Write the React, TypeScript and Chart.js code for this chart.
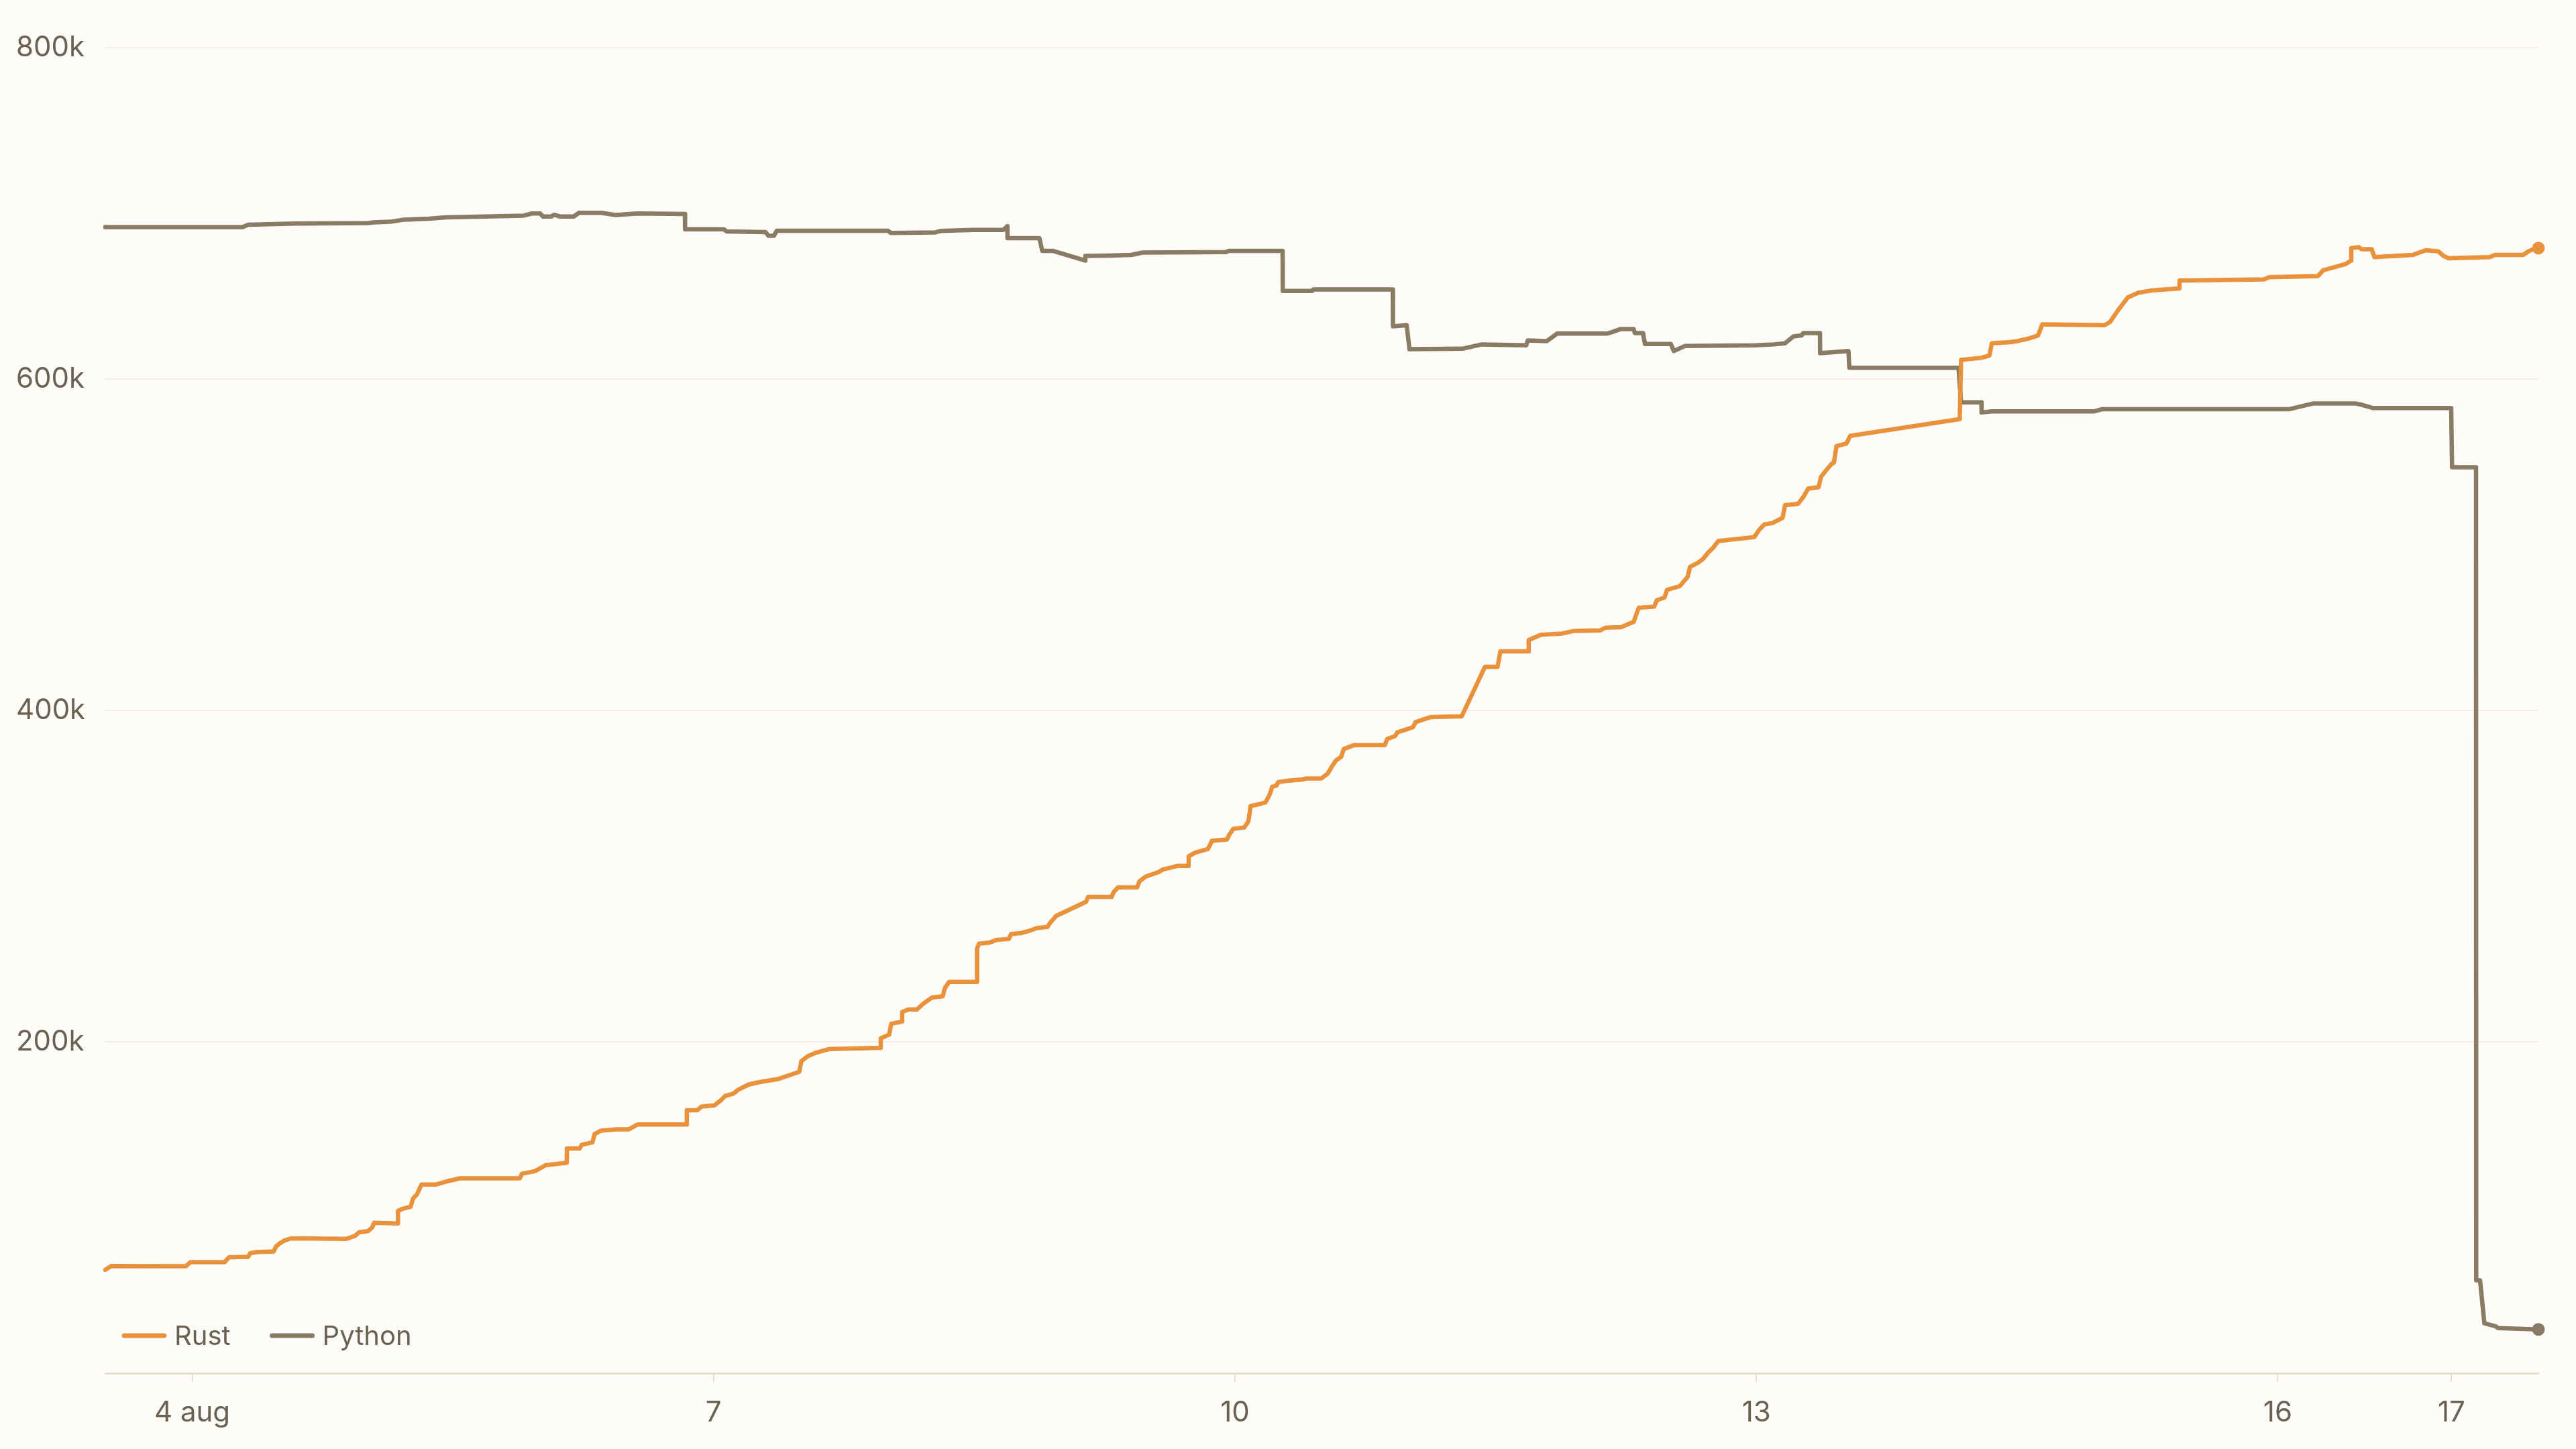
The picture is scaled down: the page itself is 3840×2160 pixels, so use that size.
import React, { useEffect, useRef } from 'react';
import { Chart, registerables, ChartConfiguration, Plugin } from 'chart.js';

Chart.register(...registerables);

// x = day of August (fractional), y = total count
const rustDays = [
  3.5, 3.534, 3.963, 3.99, 4.186, 4.211, 4.321, 4.334, 4.371, 4.469, 4.481, 4.506, 4.53, 4.568, 4.888,
  4.937, 4.961, 5.011, 5.035, 5.047, 5.183, 5.184, 5.208, 5.257, 5.27, 5.294, 5.319, 5.405, 5.478, 5.54,
  5.885, 5.897, 5.971, 6.008, 6.032, 6.155, 6.156, 6.229, 6.241, 6.303, 6.315, 6.352, 6.439, 6.513, 6.562,
  6.845, 6.846, 6.906, 6.931, 7.004, 7.041, 7.067, 7.116, 7.14, 7.202, 7.251, 7.37, 7.493, 7.505, 7.542,
  7.591, 7.665, 7.961, 7.962, 8.01, 8.022, 8.084, 8.085, 8.121, 8.17, 8.207, 8.256, 8.318, 8.331, 8.355,
  8.515, 8.516, 8.527, 8.589, 8.625, 8.699, 8.711, 8.773, 8.822, 8.86, 8.921, 8.934, 8.97, 9.143, 9.155,
  9.29, 9.302, 9.327, 9.437, 9.45, 9.486, 9.561, 9.586, 9.672, 9.733, 9.734, 9.77, 9.844, 9.868, 9.954,
  9.967, 9.991, 10.053, 10.077, 10.09, 10.126, 10.176, 10.201, 10.214, 10.238, 10.25, 10.299, 10.385, 10.41, 10.496,
  10.533, 10.558, 10.581, 10.611, 10.626, 10.684, 10.862, 10.876, 10.92, 10.935, 10.98, 11.024, 11.039, 11.083, 11.128,
  11.305, 11.438, 11.511, 11.527, 11.689, 11.69, 11.763, 11.881, 11.955, 12.103, 12.131, 12.22, 12.294, 12.309, 12.323,
  12.412, 12.427, 12.471, 12.486, 12.559, 12.604, 12.619, 12.663, 12.693, 12.722, 12.752, 12.781, 12.988, 13.017, 13.047,
  13.091, 13.121, 13.151, 13.165, 13.24, 13.269, 13.298, 13.358, 13.372, 13.401, 13.432, 13.446, 13.461, 13.519, 13.54,
  14.17, 14.178, 14.295, 14.341, 14.355, 14.459, 14.503, 14.562, 14.621, 14.645, 15.004, 15.035, 15.079, 15.108, 15.138,
  15.197, 15.271, 15.434, 15.435, 15.92, 15.95, 16.231, 16.26, 16.304, 16.393, 16.422, 16.423, 16.467, 16.482, 16.541,
  16.556, 16.777, 16.851, 16.925, 16.954, 16.984, 17.22, 17.25, 17.412, 17.441, 17.486, 17.5,
];
const rustValues = [
  62400, 64700, 64600, 67000, 67000, 69900, 70200, 72500, 73100, 73500, 76300, 78500, 80000, 81400, 81100,
  82900, 85100, 85700, 87900, 90800, 90400, 98000, 99100, 100500, 105300, 108100, 113900, 113900, 116100, 117600,
  117600, 120400, 121900, 124000, 125500, 127000, 135600, 135600, 137800, 139300, 144300, 146400, 147200, 147200, 150100,
  150100, 158700, 158700, 160900, 161600, 164600, 167400, 168800, 171000, 174200, 175400, 177500, 181900, 188300, 191300,
  193500, 195600, 196400, 202100, 204300, 210900, 212200, 218000, 219500, 219500, 223000, 226700, 227400, 232500, 236100,
  236100, 256400, 259200, 259900, 261400, 262100, 265000, 265700, 267200, 268600, 269300, 271500, 275900, 284500, 287400,
  287400, 290400, 293200, 293200, 296800, 299700, 302500, 304000, 306200, 306200, 312000, 314100, 316300, 321400, 322100,
  325000, 328600, 329300, 333000, 342300, 343100, 344500, 349500, 353900, 354600, 356800, 357500, 358300, 358900, 358900,
  361800, 366200, 369800, 372000, 376700, 379000, 379000, 382800, 384400, 386800, 388300, 389900, 392900, 394500, 396000,
  396500, 426300, 426300, 435600, 435600, 442500, 445700, 446400, 448000, 448300, 449900, 450200, 453400, 458000, 461900,
  462600, 466500, 468100, 472700, 475000, 480500, 486700, 489000, 491400, 495200, 498300, 502200, 504600, 509100, 512300,
  513000, 514600, 516200, 523900, 524700, 528600, 533900, 534700, 541000, 544800, 548700, 549500, 559500, 561100, 565700,
  575800, 611500, 612800, 614200, 621600, 622300, 622900, 624300, 626300, 633000, 632500, 634400, 641200, 645200, 649300,
  652000, 653400, 654700, 659400, 660100, 661400, 662100, 665500, 666900, 669500, 671500, 679000, 679600, 678300, 678300,
  673600, 674900, 677700, 677000, 674300, 672900, 673600, 674900, 674900, 677000, 679000, 679000,
];

const pythonDays = [
  3.5, 4.29, 4.322, 4.595, 5.011, 5.043, 5.138, 5.17, 5.219, 5.362, 5.459, 5.907, 5.955, 6.002, 6.018,
  6.066, 6.083, 6.115, 6.195, 6.226, 6.355, 6.435, 6.563, 6.835, 6.836, 7.059, 7.075, 7.299, 7.316, 7.347,
  7.363, 8.003, 8.019, 8.276, 8.307, 8.493, 8.667, 8.69, 8.691, 8.875, 8.891, 8.955, 9.138, 9.139, 9.276,
  9.404, 9.468, 9.948, 9.964, 10.274, 10.275, 10.444, 10.45, 10.908, 10.909, 10.988, 11.004, 11.308, 11.42, 11.676,
  11.685, 11.795, 11.853, 12.14, 12.172, 12.22, 12.294, 12.301, 12.348, 12.359, 12.508, 12.525, 12.588, 12.989, 13.101,
  13.165, 13.213, 13.261, 13.269, 13.366, 13.367, 13.53, 13.535, 14.163, 14.178, 14.295, 14.296, 14.355, 14.946, 14.99,
  16.068, 16.201, 16.451, 16.482, 16.547, 16.998, 17.003, 17.141, 17.142, 17.164, 17.189, 17.254, 17.267, 17.5,
];
const pythonValues = [
  691700, 691700, 693100, 693800, 694100, 694500, 694900, 695400, 696200, 696800, 697600, 698600, 699900, 699900, 698100,
  698100, 699200, 698100, 698100, 700300, 700300, 699000, 699900, 699600, 690400, 690400, 689100, 688700, 686400, 686400,
  689500, 689500, 688200, 688500, 689400, 690000, 690000, 692200, 685000, 685000, 677300, 677300, 671500, 674300, 674500,
  674900, 676300, 676600, 677300, 677300, 653100, 653100, 654000, 654000, 631800, 632500, 618000, 618300, 620900, 620300,
  623300, 622900, 627400, 627400, 628400, 630200, 630200, 627700, 627700, 621200, 621200, 616900, 619900, 620300, 620900,
  621600, 625700, 626300, 627700, 627700, 615600, 616900, 606800, 606800, 585900, 585900, 579800, 580500, 580500, 581800,
  581800, 585200, 585200, 584500, 582500, 582500, 546800, 546800, 56100, 56100, 30100, 28300, 27200, 26400,
];

const seriesNames = ['Rust', 'Python'];
const seriesColors = ['#e8933b', '#8a7b65'];

const xTickDays = [4, 7, 10, 13, 16, 17];
const xTickLabels = ['4 aug', '7', '10', '13', '16', '17'];
const yTickValues = [200000, 400000, 600000, 800000];
const yTickLabels = ['200k', '400k', '600k', '800k'];

const FONT = 'Inter, "Noto Sans", sans-serif';
const TEXT_COLOR = '#6b6151';
const BG = '#fdfcf8';

// legend drawn inside the plot, bottom-left
const inlineLegend: Plugin<'line'> = {
  id: 'inlineLegend',
  afterDatasetsDraw(chart) {
    const { ctx, chartArea } = chart;
    ctx.save();
    ctx.font = `40px ${FONT}`;
    ctx.textBaseline = 'middle';
    ctx.textAlign = 'left';
    let x = chartArea.left + 28;
    const y = chartArea.bottom - 56;
    chart.data.datasets.forEach((ds) => {
      ctx.strokeStyle = ds.borderColor as string;
      ctx.lineWidth = 7;
      ctx.lineCap = 'round';
      ctx.beginPath();
      ctx.moveTo(x, y);
      ctx.lineTo(x + 60, y);
      ctx.stroke();
      ctx.fillStyle = TEXT_COLOR;
      ctx.fillText(ds.label || '', x + 75, y + 2);
      x += 75 + ctx.measureText(ds.label || '').width + 62;
    });
    ctx.restore();
  },
};

const App: React.FC = () => {
  const canvasRef = useRef<HTMLCanvasElement | null>(null);

  useEffect(() => {
    document.body.style.margin = '0';
    document.body.style.background = BG;
    if (!canvasRef.current) return;

    const lastDot = (n: number) => (ctx: any) => (ctx.dataIndex === n - 1 ? 9.5 : 0);

    const config: ChartConfiguration<'line'> = {
      type: 'line',
      data: {
        datasets: [
          {
            label: seriesNames[0],
            data: rustDays.map((d, i) => ({ x: d, y: rustValues[i] })),
            borderColor: seriesColors[0],
            backgroundColor: seriesColors[0],
            borderWidth: 6.5,
            borderJoinStyle: 'round',
            borderCapStyle: 'round',
            pointRadius: lastDot(rustDays.length),
            pointHoverRadius: 0,
            pointBorderWidth: 0,
            tension: 0,
            clip: false,
          },
          {
            label: seriesNames[1],
            data: pythonDays.map((d, i) => ({ x: d, y: pythonValues[i] })),
            borderColor: seriesColors[1],
            backgroundColor: seriesColors[1],
            borderWidth: 6.5,
            borderJoinStyle: 'round',
            borderCapStyle: 'round',
            pointRadius: lastDot(pythonDays.length),
            pointHoverRadius: 0,
            pointBorderWidth: 0,
            tension: 0,
            clip: false,
          },
        ],
      },
      options: {
        responsive: false,
        animation: false,
        devicePixelRatio: 1,
        layout: { padding: { top: 71, right: 56, bottom: 0, left: 24 } },
        plugins: {
          legend: { display: false },
          tooltip: { enabled: false },
        },
        scales: {
          x: {
            type: 'linear',
            min: 3.5,
            max: 17.5,
            afterBuildTicks: (scale) => {
              scale.ticks = xTickDays.map((value) => ({ value }));
            },
            afterFit: (scale) => {
              scale.height = 113;
            },
            grid: {
              drawOnChartArea: false,
              drawTicks: true,
              tickLength: 13,
              color: '#e6dfcc',
              lineWidth: 2,
            },
            border: { display: true, color: '#e6dfcc', width: 3 },
            ticks: {
              autoSkip: false,
              maxRotation: 0,
              padding: 21,
              color: TEXT_COLOR,
              font: { family: FONT, size: 42 },
              callback: (v) => xTickLabels[xTickDays.indexOf(Number(v))] ?? '',
            },
          },
          y: {
            type: 'linear',
            min: 0,
            max: 800000,
            afterBuildTicks: (scale) => {
              scale.ticks = yTickValues.map((value) => ({ value }));
            },
            afterFit: (scale) => {
              scale.width = 133;
            },
            grid: { color: '#f4eee4', lineWidth: 2, drawTicks: false },
            border: { display: false },
            ticks: {
              padding: 30,
              crossAlign: 'far',
              color: TEXT_COLOR,
              font: { family: FONT, size: 42 },
              callback: (v) => yTickLabels[yTickValues.indexOf(Number(v))] ?? '',
            },
          },
        },
      },
      plugins: [inlineLegend],
    };

    const chart = new Chart(canvasRef.current, config);
    return () => chart.destroy();
  }, []);

  return (
    <div style={{ width: 3840, height: 2160, background: BG }}>
      <canvas ref={canvasRef} width={3840} height={2160} style={{ display: 'block' }} />
    </div>
  );
};

export default App;
